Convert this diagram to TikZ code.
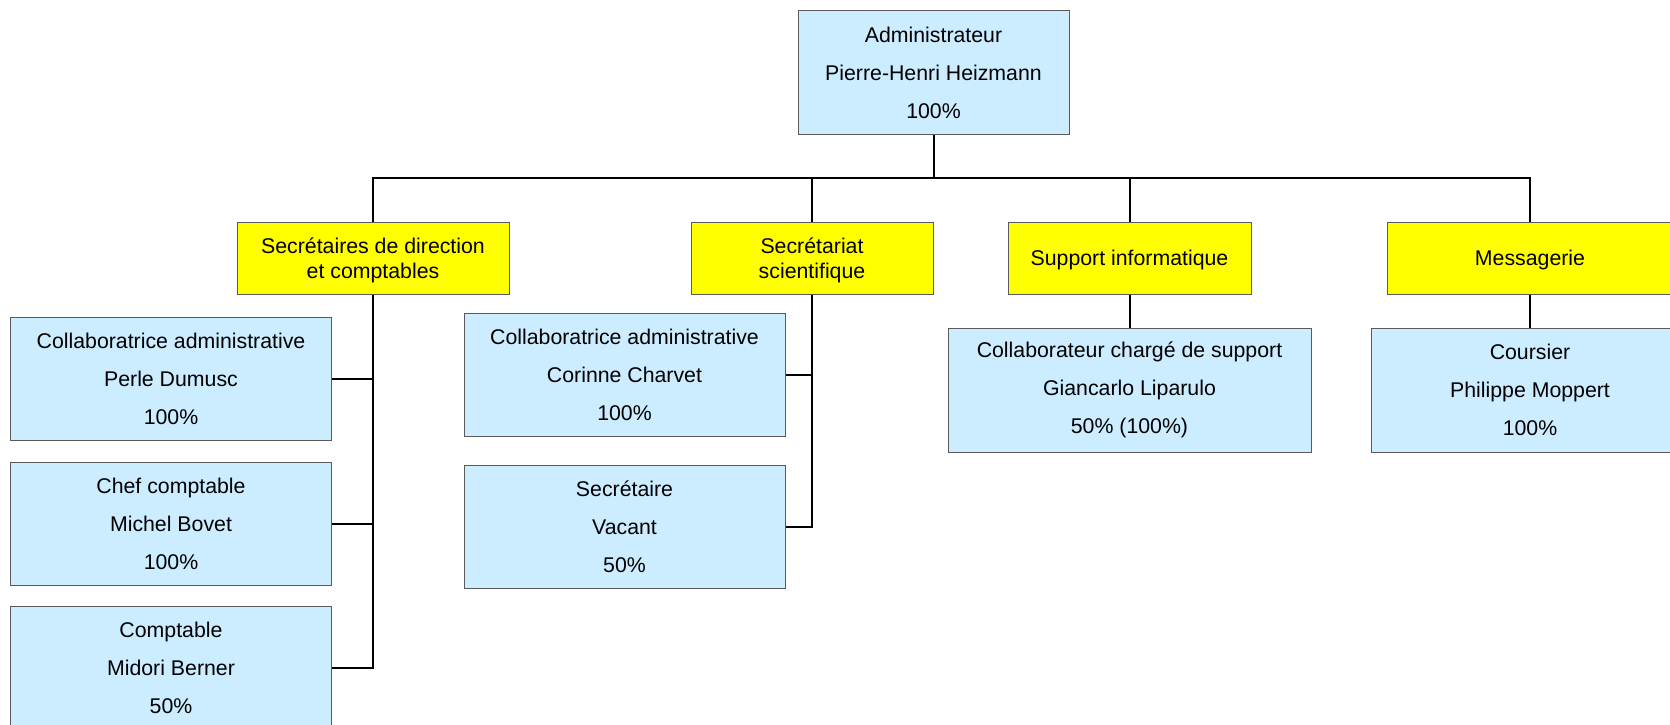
\documentclass[tikz,border=0pt]{standalone}
\usepackage{fontspec}
\setmainfont{Liberation Sans}
\definecolor{boxblue}{HTML}{CCECFF}
\definecolor{boxyellow}{HTML}{FFFF00}
\definecolor{boxline}{HTML}{5A5A5A}
\begin{document}
\begin{tikzpicture}[x=1pt,y=-1pt,
  bluebox/.style={draw=boxline, line width=1pt, fill=boxblue, rectangle, inner sep=0pt,
    minimum height=123pt, align=center, font=\fontsize{21.3pt}{38pt}\selectfont},
  yellowbox/.style={draw=boxline, line width=1pt, fill=boxyellow, rectangle, inner sep=0pt,
    minimum height=72pt, align=center, text depth=0pt, font=\fontsize{21.3pt}{25pt}\selectfont},
  link/.style={draw=black, line width=2pt}]
\useasboundingbox (0,0) rectangle (1670,725);
\clip (0,0) rectangle (1670,725);

% top
\node[bluebox, minimum width=271pt] (admin) at (933.5,72.5) {Administrateur\\Pierre-Henri Heizmann\\100\%};

% second level
\node[yellowbox, minimum width=272pt] (y1) at (373,258) {Secrétaires de direction\\et comptables};
\node[yellowbox, minimum width=242pt] (y2) at (812,258) {Secrétariat\\scientifique};
\node[yellowbox, minimum width=243pt] (y3) at (1129.5,258) {Support informatique};
\node[yellowbox, minimum width=286pt] (y4) at (1530,258) {Messagerie};

% left column
\node[bluebox, minimum width=321pt] (l1) at (171,378.5) {Collaboratrice administrative\\Perle Dumusc\\100\%};
\node[bluebox, minimum width=321pt] (l2) at (171,523.5) {Chef comptable\\Michel Bovet\\100\%};
\node[bluebox, minimum width=321pt] (l3) at (171,667.5) {Comptable\\Midori Berner\\50\%};

% middle column
\node[bluebox, minimum width=321pt] (m1) at (624.5,374.5) {Collaboratrice administrative\\Corinne Charvet\\100\%};
\node[bluebox, minimum width=321pt] (m2) at (624.5,526.5) {Secrétaire\\Vacant\\50\%};

% right
\node[bluebox, minimum width=363pt, minimum height=124pt] (s1) at (1129.5,390) {Collaborateur chargé de support\\Giancarlo Liparulo\\50\% (100\%)};
\node[bluebox, minimum width=318pt, minimum height=124pt] (c1) at (1530,390) {Coursier\\Philippe Moppert\\100\%};

% connectors
\coordinate (bus) at (933.5,178);
\draw[link] (admin.south) -- (bus);
\draw[link] (y1.north) |- (bus);
\draw[link] (y2.north) |- (bus);
\draw[link] (y3.north) |- (bus);
\draw[link] (y4.north) |- (bus);

\draw[link] (y1.south) |- (l1.east);
\draw[link] (y1.south) |- (l2.east);
\draw[link] (y1.south) |- (l3.east);

\draw[link] (y2.south) |- (m1.east);
\draw[link] (y2.south) |- (m2.east);

\draw[link] (y3.south) -- (s1.north);
\draw[link] (y4.south) -- (c1.north);
\end{tikzpicture}
\end{document}
